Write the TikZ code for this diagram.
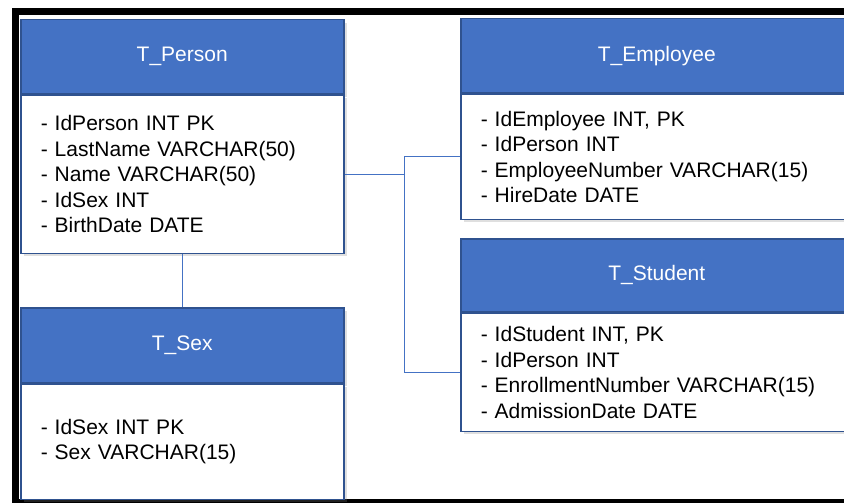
\documentclass[tikz,border=0pt]{standalone}
\usepackage{fontspec}
\setmainfont{Liberation Sans}
\usepackage{xcolor}
\usepackage{tikz}
\usetikzlibrary{positioning, shadows}
\definecolor{tablehead}{RGB}{68,114,196}
\definecolor{tableedge}{RGB}{47,82,143}
\tikzset{
    head/.style={rectangle, draw=tableedge, line width=1.5pt, fill=tablehead, text=white, anchor=north west, font=\fontsize{21}{25.5}\selectfont, drop shadow={opacity=0.25, shadow xshift=3pt, shadow yshift=-3pt}},
    body/.style={rectangle, draw=tableedge, line width=1.5pt, fill=white, align=left, inner xsep=20pt, font=\fontsize{21}{25.5}\selectfont, drop shadow={opacity=0.25, shadow xshift=3pt, shadow yshift=-3pt}},
    link/.style={draw=tablehead, line width=1pt}
}

\begin{document}
\begin{tikzpicture}[x=1pt, y=-1pt]
    \useasboundingbox (0,0) rectangle (844,503);
    % Outer frame
    \draw[line width=7pt] (850,12) -- (15,12) -- (15,502) -- (850,502);
    % Person table
    \node[head, minimum width=323pt, minimum height=74pt] (person_head) at (20,19) {T\_Person};
    \node[body, minimum width=323pt, text width=283pt, minimum height=158pt, below=0pt of person_head] (person_body) {%
        - IdPerson INT PK\\- LastName VARCHAR(50)\\- Name VARCHAR(50)\\- IdSex INT\\- BirthDate DATE};
    % Sex table
    \node[head, minimum width=323pt, minimum height=75pt] (sex_head) at (20,307) {T\_Sex};
    \node[body, minimum width=323pt, text width=283pt, minimum height=115pt, below=0pt of sex_head] (sex_body) {%
        - IdSex INT PK\\- Sex VARCHAR(15)};
    % Employee table
    \node[head, minimum width=392pt, minimum height=74pt] (employee_head) at (460,18) {T\_Employee};
    \node[body, minimum width=392pt, text width=352pt, minimum height=125pt, below=0pt of employee_head] (employee_body) {%
        - IdEmployee INT, PK\\- IdPerson INT\\- EmployeeNumber VARCHAR(15)\\- HireDate DATE};
    % Student table
    \node[head, minimum width=392pt, minimum height=73pt] (student_head) at (460,238) {T\_Student};
    \node[body, minimum width=392pt, text width=352pt, minimum height=118pt, below=0pt of student_head] (student_body) {%
        - IdStudent INT, PK\\- IdPerson INT\\- EnrollmentNumber VARCHAR(15)\\- AdmissionDate DATE};

    % Relations
    \draw[link] (person_body) -- (sex_head);
    \draw[link] (person_body.east) -- ++(60,0) coordinate (bus);
    \draw[link] (employee_body.west) -| (bus) |- (student_body.west);
\end{tikzpicture}
\end{document}
